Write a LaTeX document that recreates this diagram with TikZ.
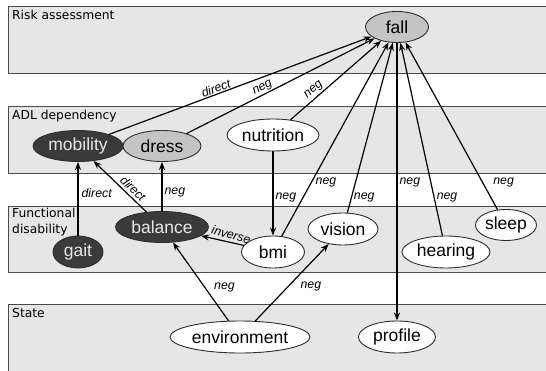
\documentclass[tikz,border=0pt]{standalone}
\usepackage{fontspec}
\setmainfont{Liberation Sans}
\newfontfamily\bandfont{DejaVu Sans}
\usetikzlibrary{shapes.geometric,arrows.meta,shadows}
\definecolor{bandfill}{HTML}{E6E6E6}
\definecolor{bandline}{HTML}{4A4A4A}
\definecolor{nodeline}{HTML}{2E2E2E}
\definecolor{midfill}{HTML}{C4C4C4}
\definecolor{darkfill}{HTML}{3A3A3A}
\definecolor{darktext}{HTML}{E8E8E8}
\begin{document}
\begin{tikzpicture}[x=1pt,y=-1pt,
  band/.style={draw=bandline, fill=bandfill, line width=0.9pt,
    drop shadow={shadow xshift=1.5pt,shadow yshift=-1.5pt,opacity=0.35}},
  bandlabel/.style={anchor=north west, inner sep=0pt, align=left,
    font=\bandfont\fontsize{12.3}{16}\selectfont},
  var/.style={ellipse, draw=nodeline, line width=0.9pt, inner sep=0pt,
    font=\fontsize{17.5}{20}\selectfont},
  light/.style={var, fill=white, text=black},
  mid/.style={var, fill=midfill, text=black},
  dark/.style={var, fill=darkfill, text=darktext},
  link/.style={-{Stealth[length=8pt,width=6pt]}, line width=1.2pt},
  lab/.style={font=\itshape\fontsize{12.3}{14}\selectfont, inner sep=1pt},
]
\useasboundingbox (0,0) rectangle (546,371);
\fill[white] (0,0) rectangle (546,371);
\begin{scope}
\clip (0,0) rectangle (546,371);
% bands
\path[band] (8,6) rectangle (560,73);
\path[band] (8,106) rectangle (560,173);
\path[band] (8,206) rectangle (560,272);
\path[band] (8,304) rectangle (560,390);
\end{scope}
\node[bandlabel] (lrisk) at (12,10) {Risk assessment};
\node[bandlabel] (ladl) at (12,110) {ADL dependency};
\node[bandlabel] (lfun) at (12,208) {Functional\\disability};
\node[bandlabel] (lstate) at (12,308) {State};
% nodes
\node[mid, minimum width=63pt, minimum height=31pt] (fall) at (397,27) {fall};
\node[dark, minimum width=90pt, minimum height=31pt] (mobility) at (78,146) {mobility};
\node[mid, minimum width=78pt, minimum height=31pt] (dress) at (162,146) {dress};
\node[light, minimum width=92pt, minimum height=32pt] (nutrition) at (273,135) {nutrition};
\node[dark, minimum width=93pt, minimum height=31pt] (balance) at (162,227) {balance};
\node[dark, minimum width=50pt, minimum height=32pt] (gait) at (78,252) {gait};
\node[light, minimum width=63pt, minimum height=32pt] (bmi) at (273,252) {bmi};
\node[light, minimum width=70pt, minimum height=32pt] (vision) at (343,229) {vision};
\node[light, minimum width=88pt, minimum height=32pt] (hearing) at (446,252) {hearing};
\node[light, minimum width=61pt, minimum height=31pt] (sleep) at (506,225) {sleep};
\node[light, minimum width=140pt, minimum height=32pt] (environment) at (240,337) {environment};
\node[light, minimum width=77pt, minimum height=32pt] (profile) at (397,337) {profile};
% edges
\draw[link] (mobility) -- node[lab,pos=0.415,sloped,above] {direct} (fall);
\draw[link] (dress) -- node[lab,pos=0.42,sloped,above] {neg} (fall);
\draw[link] (nutrition) -- node[lab,pos=0.31,sloped,above,inner sep=2pt] {neg} (fall);
\draw[link] (bmi) -- node[lab,pos=0.275,anchor=west,xshift=3pt] {neg} (fall);
\draw[link] (vision) -- node[lab,pos=0.088,anchor=west,xshift=1pt] {neg} (fall);
\draw[link] (hearing) -- node[lab,pos=0.196,anchor=west,xshift=1pt] {neg} (fall);
\draw[link] (sleep) -- node[lab,pos=0.161,anchor=west,xshift=9pt] {neg} (fall);
\draw[link] (fall) -- node[lab,pos=0.504,anchor=west,xshift=1pt] {neg} (profile);
\draw[link] (nutrition) -- node[lab,pos=0.553,anchor=west,xshift=1pt] {neg} (bmi);
\draw[link] (gait) -- node[lab,pos=0.577,anchor=west,xshift=2pt] {direct} (mobility);
\draw[link] (balance) -- node[lab,pos=0.35,rotate=-44,anchor=south,inner sep=2.5pt] {direct} (mobility);
\draw[link] (balance) -- node[lab,pos=0.37,anchor=west,xshift=1pt] {neg} (dress);
\draw[link] (bmi) -- node[lab,pos=0.34,rotate=-15,anchor=south,inner sep=2.5pt] {inverse} (balance);
\draw[link] (environment) -- node[lab,pos=0.431,anchor=west,xshift=8pt] {neg} (balance);
\draw[link] (environment) -- node[lab,pos=0.446,anchor=west,xshift=11pt] {neg} (vision);
\end{tikzpicture}
\end{document}
